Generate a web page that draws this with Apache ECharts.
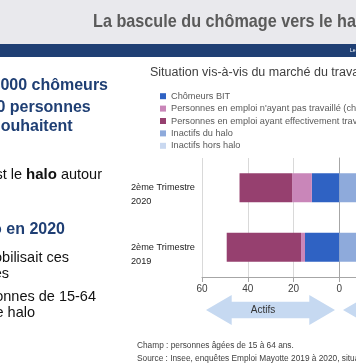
<!DOCTYPE html>
<html><head><meta charset="utf-8">
<script src="https://cdn.jsdelivr.net/npm/echarts@6/dist/echarts.min.js"></script>
<style>html,body{margin:0;padding:0;background:#fff;overflow:hidden}#c{width:356px;height:364px}</style>
</head><body><div id="c"></div>
<script>
// Data (values in thousands of people; actives negative = drawn to the left)
const categories = ['2ème Trimestre\n2019', '2ème Trimestre\n2020'];
const chomeursBIT = [-15, -12];
const emploiNonTravail = [-1.7, -8.6];
const emploiTravail = [-32.5, -23];
const inactifsHalo = [12, 15];
const inactifsHorsHalo = [40, 38];
const seriesNames = ['Chômeurs BIT',
  "Personnes en emploi n'ayant pas travaillé (chômage partiel, congés)",
  'Personnes en emploi ayant effectivement travaillé',
  'Inactifs du halo', 'Inactifs hors halo'];
const xTicks = [-60, -40, -20, 0, 20, 40, 60];

const chart = echarts.init(document.getElementById('c'));
const FF = '"Liberation Sans", Arial, sans-serif';
const blue = '#1f3f74';
const colors = ['#2f62c3', '#c986b9', '#96406f', '#8eaadb', '#c9d8f0'];
const bar = (i, data) => ({
  name: seriesNames[i], type: 'bar', stack: 'tot', data: data, barWidth: 29,
  itemStyle: { color: colors[i] }, silent: true
});
function leftText(txt, right, y, size, bold, col) {
  return { type: 'text', x: right, y: y, silent: true,
    style: { text: txt, textAlign: 'right', textVerticalAlign: 'middle',
      fontFamily: FF, fontSize: size, fontWeight: bold ? 'bold' : 'normal', fill: col } };
}
const arrow = (x0, x1) => {
  const h = 25.7;
  return [[x0, 310], [x0 + h, 295], [x0 + h, 301.7], [x1 - h, 301.7], [x1 - h, 295], [x1, 310],
    [x1 - h, 325], [x1 - h, 318.3], [x0 + h, 318.3], [x0 + h, 325]];
};
chart.setOption({
  animation: false,
  textStyle: { fontFamily: FF },
  graphic: [
    { type: 'rect', shape: { x: 0, y: 0, width: 356, height: 44 }, style: { fill: '#e9e9ed' }, silent: true },
    { type: 'rect', shape: { x: 0, y: 44, width: 356, height: 13 }, style: { fill: '#1f3f74' }, silent: true },
    { type: 'text', x: 93, y: 22, scaleX: 0.853, silent: true, style: { text: 'La bascule du chômage vers le halo',
      fontFamily: FF, fontWeight: 'bold',
      fontSize: 19, fill: '#5a5a5a', textVerticalAlign: 'middle' } },
    { type: 'text', x: 350, y: 51, silent: true, style: { text: 'Le', fontSize: 5, fill: '#ffffff', textVerticalAlign: 'middle', fontFamily: FF } },
    leftText('8 000 chômeurs', 108, 86, 16, true, blue),
    leftText('et 10 000 personnes', 90.7, 108, 16, true, blue),
    leftText('qui souhaitent', 72.7, 127, 16, true, blue),
    { type: 'text', x: 102, y: 175, silent: true, style: {
      text: "{n|C'est le }{b|halo}{n| autour}", textAlign: 'right', textVerticalAlign: 'middle',
      rich: { n: { fontFamily: FF, fontSize: 14.5, fill: '#111' }, b: { fontFamily: FF, fontSize: 15, fontWeight: 'bold', fill: '#111' } } } },
    leftText('Le halo en 2020', 65, 230, 16, true, blue),
    leftText('Le halo mobilisait ces', 69, 257.7, 14.5, false, '#111'),
    leftText('personnes', 9, 274, 14.5, false, '#111'),
    leftText('des personnes de 15-64', 96, 296.7, 14.5, false, '#111'),
    leftText('dans le halo', 35, 313, 14.5, false, '#111'),
    { type: 'text', x: 150, y: 73, silent: true, style: { text: 'Situation vis-à-vis du marché du travail',
      fontFamily: FF, fontSize: 12.5, fill: '#404040', textVerticalAlign: 'middle' } },
    { type: 'polygon', shape: { points: arrow(206, 335) }, style: { fill: '#c6d9f1' }, silent: true },
    { type: 'polygon', shape: { points: arrow(343, 472) }, style: { fill: '#c6d9f1' }, silent: true },
    { type: 'text', x: 263, y: 310, silent: true, style: { text: 'Actifs', fontFamily: FF, fontSize: 10,
      fill: '#333', textAlign: 'center', textVerticalAlign: 'middle' } },
    { type: 'text', x: 137, y: 346, silent: true, style: { text: 'Champ : personnes âgées de 15 à 64 ans.',
      fontFamily: FF, fontSize: 8.3, fill: '#404040', textVerticalAlign: 'middle' } },
    { type: 'text', x: 137, y: 359, silent: true, style: { text: 'Source : Insee, enquêtes Emploi Mayotte 2019 à 2020, situation',
      fontFamily: FF, fontSize: 8.3, fill: '#404040', textVerticalAlign: 'middle' } }
  ],
  legend: {
    orient: 'vertical', left: 155, top: 86.5, itemWidth: 6, itemHeight: 6, itemGap: 3,
    icon: 'rect', selectedMode: false, data: seriesNames,
    textStyle: { fontSize: 9.2, color: '#595959', fontFamily: FF, lineHeight: 9.4, padding: 0 }
  },
  grid: { left: 202, top: 158, height: 119, width: 274.6, containLabel: false, outerBoundsMode: 'none' },
  xAxis: {
    type: 'value', min: xTicks[0], max: xTicks[xTicks.length - 1], interval: 20,
    axisLine: { show: true, lineStyle: { color: '#a6a6a6' } },
    axisTick: { show: true, length: 5, lineStyle: { color: '#a6a6a6' } },
    splitLine: { show: true, lineStyle: { color: '#d9d9d9' } },
    axisLabel: { formatter: v => Math.abs(v), fontSize: 10, color: '#404040', margin: 7, fontFamily: FF }
  },
  yAxis: {
    type: 'category', data: categories,
    axisLine: { show: true, onZero: true, lineStyle: { color: '#a6a6a6' } },
    axisTick: { show: false },
    axisLabel: { align: 'left', margin: 71, fontSize: 9.2, lineHeight: 14, color: '#222',
      formatter: v => ' \n' + v, fontFamily: FF }
  },
  series: [bar(0, chomeursBIT), bar(1, emploiNonTravail), bar(2, emploiTravail),
    bar(3, inactifsHalo), bar(4, inactifsHorsHalo)]
});
</script></body></html>
